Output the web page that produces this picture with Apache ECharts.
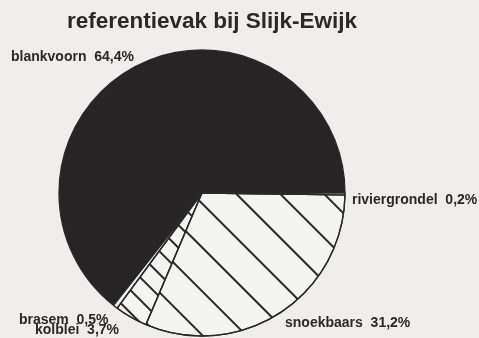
<!DOCTYPE html>
<html>
<head>
<meta charset="utf-8">
<script src="https://cdn.jsdelivr.net/npm/echarts@6/dist/echarts.min.js"></script>
<style>
html,body{margin:0;padding:0;background:#efeeec;}
#c{width:479px;height:338px;}
</style>
</head>
<body>
<div id="c"></div>
<script>
var titleText = 'referentievak bij Slijk-Ewijk';
var categories = ['blankvoorn', 'brasem', 'kolblei', 'snoekbaars', 'riviergrondel'];
var percentages = [64.4, 0.5, 3.7, 31.2, 0.2];

var labelPos = {
  'blankvoorn': [11, 57],
  'riviergrondel': [352, 200],
  'snoekbaars': [285, 323],
  'brasem': [19, 320],
  'kolblei': [35, 330]
};
var hatch = {
  symbol: 'rect', symbolSize: 1, dashArrayX: [1, 0], dashArrayY: [1.4, 29],
  rotation: Math.PI / 4, color: '#2a2828', backgroundColor: 'rgba(0,0,0,0)'
};
var hatchDense = {
  symbol: 'rect', symbolSize: 1, dashArrayX: [1, 0], dashArrayY: [1.4, 14],
  rotation: Math.PI / 4, color: '#2a2828', backgroundColor: 'rgba(0,0,0,0)'
};
var fills = {
  'blankvoorn': {color: '#262424'},
  'brasem': {color: '#f4f4f2'},
  'kolblei': {color: '#f4f4f2', decal: hatchDense},
  'snoekbaars': {color: '#f4f4f2', decal: hatch},
  'riviergrondel': {color: '#f4f4f2'}
};

var data = categories.map(function (n, i) {
  return {name: n, value: percentages[i], itemStyle: fills[n]};
});

var chart = echarts.init(document.getElementById('c'), null, {renderer: 'canvas'});
chart.setOption({
  backgroundColor: '#efeeec',
  animation: false,
  title: {
    text: titleText, left: 62, top: 5,
    textStyle: {fontFamily: 'Liberation Sans', fontWeight: 'bold', fontSize: 22.5, color: '#2a2828'}
  },
  series: [{
    type: 'pie',
    center: [202, 193],
    radius: 143,
    startAngle: 0,
    clockwise: false,
    avoidLabelOverlap: false,
    itemStyle: {borderColor: '#2a2828', borderWidth: 1.3},
    label: {
      show: true,
      position: 'outside',
      fontFamily: 'Liberation Sans',
      fontWeight: 'bold',
      fontSize: 14,
      color: '#2a2828',
      formatter: function (p) {
        return p.name + '  ' + p.value.toFixed(1).replace('.', ',') + '%';
      }
    },
    labelLine: {show: false},
    labelLayout: function (p) {
      var name = categories[p.dataIndex];
      var pos = labelPos[name];
      return {x: pos[0], y: pos[1], align: 'left', verticalAlign: 'middle'};
    },
    data: data
  }]
});
</script>
</body>
</html>
